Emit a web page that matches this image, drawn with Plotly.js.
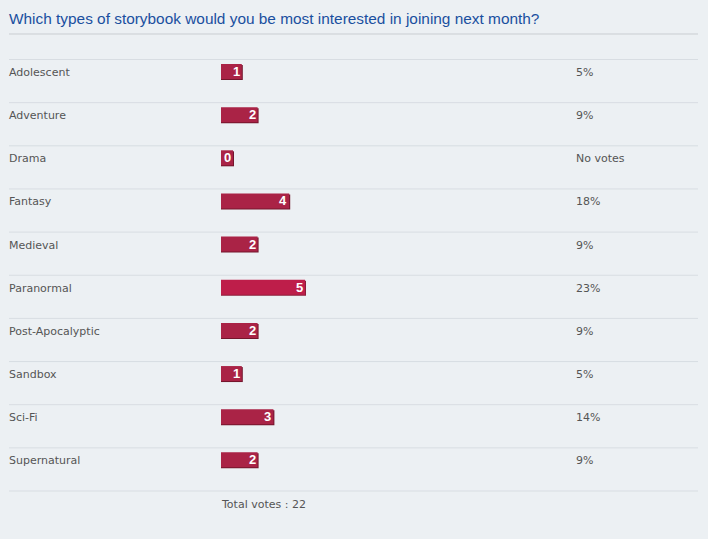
<!DOCTYPE html>
<html>
<head>
<meta charset="utf-8">
<script src="https://cdn.plot.ly/plotly-3.0.1.min.js"></script>
<style>
  html, body { margin: 0; padding: 0; background: #ecf0f3; }
  #poll { width: 708px; height: 539px; }
</style>
</head>
<body>
<div id="poll"></div>
<script>
// Poll question and answers
const question = 'Which types of storybook would you be most interested in joining next month?';
const options = ['Adolescent', 'Adventure', 'Drama', 'Fantasy', 'Medieval',
                 'Paranormal', 'Post-Apocalyptic', 'Sandbox', 'Sci-Fi', 'Supernatural'];
const votes = [1, 2, 0, 4, 2, 5, 2, 1, 3, 2];
const totalLabel = 'Total votes : ';

// Page geometry (pixels)
const W = 708, H = 539;
const ROW_H = 43.15;          // height of one answer row
const FIRST_ROW_Y = 71.5;     // vertical centre of the first bar
const SEP_ABOVE = 12;         // separator sits this far above the bar centre
const BAR_LEFT = 221;         // left edge of the bars column
const PCT_LEFT = 576;         // left edge of the percentage column
const TEXT_LEFT = 9;
const PAD = 2;                // annotation box padding to cancel
const PX_PER_VOTE = 15.8;
const BAR_STUB = 5;           // bars start a little before the zero point
const MIN_BAR = 12;           // narrowest bar, wide enough for its number
const BAR_THICK = 15;

const total = votes.reduce((a, b) => a + b, 0);
const maxVotes = Math.max(...votes);
const pctLabels = votes.map(v => v === 0 ? 'No votes' : Math.round(v / total * 100) + '%');

// x axis in votes, y axis in rows
const xSpan = (W - BAR_LEFT) / PX_PER_VOTE;
const stub = BAR_STUB / PX_PER_VOTE;
const barLen = votes.map(v => Math.max(v * PX_PER_VOTE + BAR_STUB, MIN_BAR) / PX_PER_VOTE);
const rows = options.map((_, i) => i);
const yTop = -FIRST_ROW_Y / ROW_H;
const yBottom = (H - FIRST_ROW_Y) / ROW_H;
const thick = BAR_THICK / ROW_H;
const px = 1 / ROW_H;

const fillColor = votes.map(v => v === maxVotes ? '#be1e4a' : '#aa2346');
const edgeColor = votes.map(v => v === maxVotes ? '#8c1c38' : '#74162c');

// darker edge along the bottom and right of each bar
const shadow = {
  type: 'bar', orientation: 'h',
  y: rows, x: barLen.map(l => l + 1 / PX_PER_VOTE), base: -stub,
  width: thick, offset: -thick / 2 + px,
  marker: { color: edgeColor, line: { width: 0 } },
  hoverinfo: 'skip'
};
const bars = {
  type: 'bar', orientation: 'h',
  y: rows, x: barLen, base: -stub,
  width: thick, offset: -thick / 2,
  marker: { color: fillColor, line: { width: 0 } },
  hoverinfo: 'skip'
};

const labelFont = { family: 'DejaVu Sans, sans-serif', size: 11, color: '#555555' };
const annotations = [];
options.forEach((name, i) => {
  annotations.push({ xref: 'paper', yref: 'y', x: TEXT_LEFT / W, y: i, text: name,
    xanchor: 'left', yanchor: 'middle', xshift: -PAD, yshift: -1, showarrow: false, font: labelFont });
  annotations.push({ xref: 'paper', yref: 'y', x: PCT_LEFT / W, y: i, text: pctLabels[i],
    xanchor: 'left', yanchor: 'middle', xshift: -PAD, yshift: -1, showarrow: false, font: labelFont });
  annotations.push({ xref: 'x', yref: 'y', x: barLen[i] - stub, y: i, text: String(votes[i]),
    xanchor: 'right', yanchor: 'middle', xshift: 0, showarrow: false,
    font: { family: 'Liberation Sans, Arial, sans-serif', size: 13, color: '#ffffff', weight: 'bold' } });
});
annotations.push({ xref: 'paper', yref: 'y', x: BAR_LEFT / W, y: options.length,
  text: totalLabel + total, xanchor: 'left', yanchor: 'middle', xshift: -PAD, yshift: -1,
  showarrow: false, font: labelFont });
annotations.push({ xref: 'paper', yref: 'paper', x: TEXT_LEFT / W, y: 1 - 19 / H,
  text: question, xanchor: 'left', yanchor: 'middle', xshift: -PAD, showarrow: false,
  font: { family: 'Liberation Sans, Arial, sans-serif', size: 15.4, color: '#1a4f9f' } });

const shapes = [{ type: 'line', xref: 'paper', yref: 'paper',
  x0: TEXT_LEFT / W, x1: 698 / W, y0: 1 - 34 / H, y1: 1 - 34 / H,
  line: { color: '#c9cdd1', width: 1 } }];
for (let i = 0; i <= options.length; i++) {
  const y = i - SEP_ABOVE / ROW_H;
  shapes.push({ type: 'line', xref: 'paper', yref: 'y', x0: TEXT_LEFT / W, x1: 698 / W,
    y0: y, y1: y, line: { color: '#d8dde2', width: 1 }, layer: 'below' });
}

const layout = {
  width: W, height: H,
  margin: { l: 0, r: 0, t: 0, b: 0, pad: 0 },
  paper_bgcolor: '#ecf0f3', plot_bgcolor: 'rgba(0,0,0,0)',
  showlegend: false, barmode: 'overlay',
  xaxis: { domain: [BAR_LEFT / W, 1], range: [-stub, xSpan - stub], visible: false, fixedrange: true },
  yaxis: { domain: [0, 1], range: [yBottom, yTop], visible: false, fixedrange: true },
  annotations, shapes
};

Plotly.newPlot('poll', [shadow, bars], layout, { displayModeBar: false, staticPlot: true });
</script>
</body>
</html>
